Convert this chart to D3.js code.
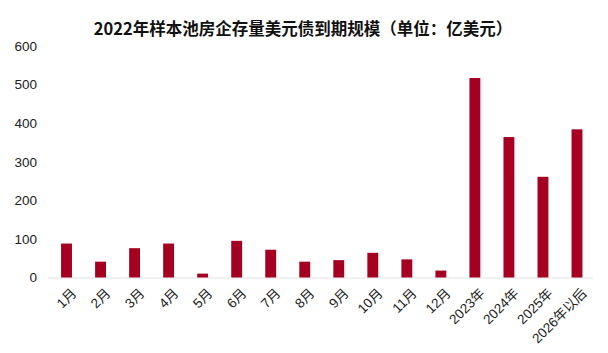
<!DOCTYPE html>
<html>
<head>
<meta charset="utf-8">
<script src="https://cdn.jsdelivr.net/npm/d3@7"></script>
<style>
  body { margin: 0; background: #fff; }
  svg { display: block; }
</style>
</head>
<body>
<div id="chart"></div>
<script>
// categories and values (亿美元)
var categories = ["1月", "2月", "3月", "4月", "5月", "6月", "7月", "8月", "9月", "10月", "11月", "12月", "2023年", "2024年", "2025年", "2026年以后"];
var maturities = [88, 41, 76, 88, 10, 95, 72, 41, 45, 64, 47, 18, 517, 364, 261, 384];
var yTicks = [0, 100, 200, 300, 400, 500, 600];
var chartTitle = "2022年样本池房企存量美元债到期规模（单位：亿美元）";

var width = 608, height = 353;
var margin = { top: 46, right: 14, bottom: 76, left: 49.5 };

var svg = d3.select("#chart")
  .append("svg")
  .attr("width", width)
  .attr("height", height);

/** Title */
svg.append("text")
  .attr("x", 303)
  .attr("y", 35)
  .attr("text-anchor", "middle")
  .style("font-family", "'Noto Sans CJK SC', 'Noto Sans', sans-serif")
  .style("font-weight", "bold")
  .style("font-size", "16.5px")
  .attr("fill", "#111")
  .text(chartTitle);

var x = d3.scaleBand()
  .domain(categories)
  .range([margin.left, width - margin.right])
  .paddingInner(0.68)
  .paddingOuter(0.34);

var y = d3.scaleLinear()
  .domain([0, 600])
  .range([277.5, margin.top]);

/** y axis: labels only */
var yAxis = d3.axisLeft(y)
  .tickValues(yTicks)
  .tickSize(0)
  .tickPadding(0);
var gy = svg.append("g")
  .attr("transform", "translate(37,0)")
  .call(yAxis);
gy.select(".domain").remove();
gy.selectAll("text")
  .style("font-family", "'Liberation Sans', Arial, sans-serif")
  .style("font-size", "13.5px")
  .attr("fill", "#222");

/** baseline */
svg.append("line")
  .attr("x1", 48)
  .attr("x2", 593)
  .attr("y1", y(0) + 0.5)
  .attr("y2", y(0) + 0.5)
  .attr("stroke", "#e3e3e3")
  .attr("stroke-width", 1);

/** bars */
svg.append("g")
  .selectAll("rect")
  .data(maturities)
  .join("rect")
  .attr("x", function(d, i) { return x(categories[i]); })
  .attr("y", function(d) { return y(d); })
  .attr("width", x.bandwidth())
  .attr("height", function(d) { return y(0) - y(d); })
  .attr("fill", "#a50021");

/** x axis: rotated labels */
var xAxis = d3.axisBottom(x)
  .tickSize(0)
  .tickPadding(0);
var gx = svg.append("g")
  .attr("transform", "translate(0," + (y(0) + 10) + ")")
  .call(xAxis);
gx.select(".domain").remove();
gx.selectAll("text")
  .style("font-family", "'Liberation Sans', 'Noto Sans CJK SC', Arial, sans-serif")
  .style("font-size", "13.5px")
  .attr("fill", "#222")
  .attr("text-anchor", "end")
  .attr("dy", "0.7em")
  .attr("transform", "translate(4,0) rotate(-45)");
</script>
</body>
</html>
